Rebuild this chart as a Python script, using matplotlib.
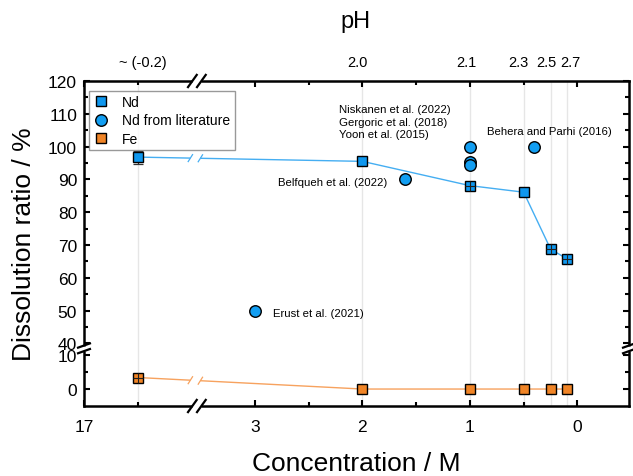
import numpy as np
import matplotlib
matplotlib.use("Agg")
import matplotlib.pyplot as plt
from matplotlib.lines import Line2D
from matplotlib.transforms import IdentityTransform, blended_transform_factory

plt.rcParams['font.family'] = ['Liberation Sans', 'DejaVu Sans']

# ---------------- data ----------------
conc = [16.5, 2, 1, 0.5, 0.25, 0.1]
nd = [96.8, 95.5, 88.1, 86.1, 68.8, 65.8]
nd_err = [2.0, 0.0, 0.4, 0.0, 0.4, 0.4]
fe = [3.4, 0.0, 0.0, 0.0, 0.0, 0.0]
fe_err = [0.4, 0.0, 0.0, 0.0, 0.0, 0.0]

lit_conc = [1.6, 1, 1, 1, 0.4, 3]
lit_nd = [90, 99.8, 95.3, 94.3, 100, 50]

ph_labels = ["~ (-0.2)", "2.0", "2.1", "2.3", "2.5", "2.7"]
ph_offsets_px = [5, -5, -4, -5, -4, 4]

x_major = [17, 3, 2, 1, 0]
x_major_labels = ["17", "3", "2", "1", "0"]
x_minor = [16.5, 2.5, 1.5, 0.5]
y_major = [0, 10, 40, 50, 60, 70, 80, 90, 100, 110, 120]
y_minor = [5, 45, 55, 65, 75, 85, 95, 105, 115]

lit_texts = [
    ("Niskanen et al. (2022)\nGergoric et al. (2018)\nYoon et al. (2015)", 2.217, 107.6, 'left'),
    ("Behera and Parhi (2016)", 0.842, 104.9, 'left'),
    ("Belfqueh et al. (2022)", 1.767, 89.3, 'right'),
    ("Erust et al. (2021)", 2.835, 49.4, 'left'),
]

# ---------------- colours ----------------
BLUE = '#0F97EE'
BLUE_LIT = '#129EF2'
BLUE_LINE = '#45AEF2'
ORANGE = '#F08426'
ORANGE_LINE = '#F7A25E'

# ---------------- broken scales ----------------
XB_LO, XB_HI = 3.54, 15.95


def xf(x):
    x = np.asarray(x, float)
    return np.where(x <= XB_LO, x, np.where(x >= XB_HI, XB_LO + (x - XB_HI), XB_LO))


def xi(p):
    p = np.asarray(p, float)
    return np.where(p <= XB_LO, p, p - XB_LO + XB_HI)


YB_LO, YB_HI, K = 12.0, 38.5, 1.0342


def yf(y):
    y = np.asarray(y, float)
    return np.where(y <= YB_LO, y * K, np.where(y >= YB_HI, YB_LO * K + (y - YB_HI), YB_LO * K))


def yi(p):
    p = np.asarray(p, float)
    return np.where(p <= YB_LO * K, p / K, p - YB_LO * K + YB_HI)


W, H = 633, 477
fig = plt.figure(figsize=(W / 100, H / 100), dpi=100)
ax = fig.add_axes([84 / W, 70 / H, 545 / W, 325 / H])
ax.set_xscale('function', functions=(xf, xi))
ax.set_yscale('function', functions=(yf, yi))
ax.set_xlim(17, -0.48)
ax.set_ylim(-5, 120)

# grid lines at measured concentrations
for c in conc:
    ax.axvline(c, color='#E6E6E6', lw=1.0, zorder=0)

# lines
ax.plot(conc, nd, '-', color=BLUE_LINE, lw=1.0, zorder=2)
ax.plot(conc, fe, '-', color=ORANGE_LINE, lw=1.0, zorder=2)

# big error bar (behind marker)
ax.errorbar(conc[:1], nd[:1], yerr=nd_err[:1], fmt='none', ecolor='#333333',
            elinewidth=0.9, capsize=3.3, capthick=0.9, zorder=2.5)

h_nd, = ax.plot(conc, nd, 's', mfc=BLUE, mec='black', mew=1.0, ms=6.8, zorder=3,
                linestyle='none', label='Nd')
h_lit, = ax.plot(lit_conc, lit_nd, 'o', mfc=BLUE_LIT, mec='black', mew=1.0, ms=8.3,
                 zorder=3, linestyle='none', label='Nd from literature')
h_fe, = ax.plot(conc, fe, 's', mfc=ORANGE, mec='black', mew=1.0, ms=6.8, zorder=3,
                linestyle='none', label='Fe')

# tiny error bars drawn over markers (cross look)
for xs, ys, es in [(conc[1:], nd[1:], nd_err[1:]), (conc, fe, fe_err)]:
    sel = [i for i, e in enumerate(es) if e > 0]
    if sel:
        ax.plot([xs[i] for i in sel], [ys[i] for i in sel], '+', color='#202020',
                ms=6.6, mew=0.8, linestyle='none', zorder=4)

# literature labels
for txt, x, y, ha in lit_texts:
    ax.text(x, y, txt, ha=ha, va='center', fontsize=8.2, linespacing=1.3, zorder=5)

# ticks
ax.set_xticks(x_major)
ax.set_xticklabels(x_major_labels)
ax.set_xticks(x_minor, minor=True)
ax.set_yticks(y_major)
ax.set_yticklabels([str(v) for v in y_major])
ax.set_yticks(y_minor, minor=True)
ax.tick_params(which='both', direction='in', top=True, right=True, width=1.5,
               labelsize=12.5, color='black')
ax.tick_params(which='major', length=4.5)
ax.tick_params(which='minor', length=2.8)
ax.tick_params(axis='x', pad=9.5)
ax.tick_params(axis='y', pad=5)
for s in ax.spines.values():
    s.set_linewidth(1.8)

ax.set_xlabel('Concentration / M', fontsize=19, labelpad=12)
ax.set_ylabel('Dissolution ratio / %', fontsize=19, labelpad=9)

# pH labels on top
btr = blended_transform_factory(ax.transData, ax.transAxes)
for c, lab, off in zip(conc, ph_labels, ph_offsets_px):
    ax.annotate(lab, xy=(c, 1.0585), xycoords=btr, xytext=(off * 0.72, 0),
                textcoords='offset points', ha='center', va='center', fontsize=10.5,
                annotation_clip=False)
fig.text(356 / W, 1 - 22 / H, 'pH', ha='center', va='center', fontsize=17)

leg = ax.legend(handles=[h_nd, h_lit, h_fe], loc='upper left', bbox_to_anchor=(0.009, 0.969),
                borderaxespad=0, fontsize=10, frameon=True, fancybox=False,
                edgecolor='#808080', labelspacing=0.3, borderpad=0.3,
                handletextpad=0.9, handlelength=1.2)
leg.get_frame().set_linewidth(1.0)
leg.set_zorder(6)

# ---------------- break marks ----------------
ident = IdentityTransform()


def seg(x0, y0, x1, y1, color, lw, z):
    fig.add_artist(Line2D([x0, x1], [y0, y1], transform=ident, color=color, lw=lw,
                          zorder=z, clip_on=False, solid_capstyle='butt'))


bb = ax.bbox
xb = ax.transData.transform((XB_LO, 50))[0]
yb = ax.transData.transform((5, YB_LO * 1.0))[1]

for ysp in (bb.y0, bb.y1):
    seg(xb - 4.5, ysp, xb + 4.5, ysp, 'white', 5, 10)
    for cx in (xb - 4.5, xb + 4.5):
        seg(cx - 5, ysp - 7, cx + 5, ysp + 7, 'black', 1.6, 11)

for xsp in (bb.x0, bb.x1):
    seg(xsp, yb - 2.8, xsp, yb + 2.8, 'white', 5, 10)
    for cy in (yb - 2.8, yb + 2.8):
        seg(xsp - 7, cy - 2.5, xsp + 7, cy + 2.5, 'black', 1.6, 11)

for ys, col in [(nd, BLUE_LINE), (fe, ORANGE_LINE)]:
    p1 = ax.transData.transform((conc[0], ys[0]))
    p2 = ax.transData.transform((conc[1], ys[1]))
    slope = (p2[1] - p1[1]) / (p2[0] - p1[0])

    def ly(x):
        return p1[1] + slope * (x - p1[0])

    a, b = xb - 6.5, xb + 3.5
    seg(a, ly(a), b, ly(b), 'white', 3, 10)
    for cx in (a, b):
        seg(cx - 2.5, ly(cx) - 4, cx + 2.5, ly(cx) + 4, col, 0.9, 11)

fig.savefig('out.png', dpi=100)
